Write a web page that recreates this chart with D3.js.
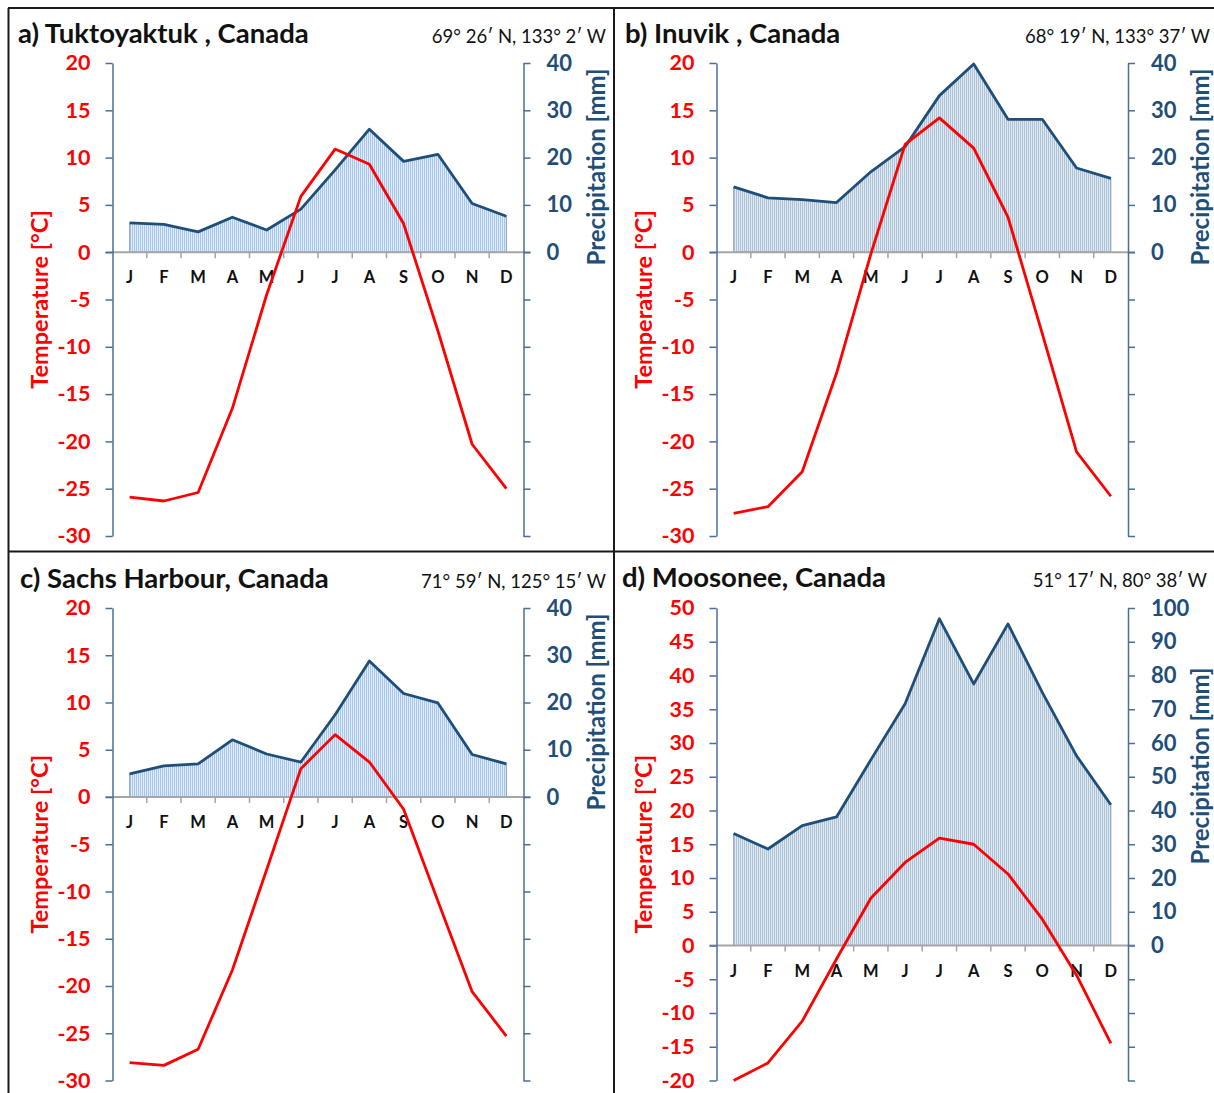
<!DOCTYPE html>
<html>
<head>
<meta charset="utf-8">
<script src="https://cdn.jsdelivr.net/npm/d3@7"></script>
<style>
  html, body { margin: 0; padding: 0; background: #fff; }
  svg { display: block; font-family: Lato, "Open Sans", sans-serif; }
</style>
</head>
<body>
<script>
// Monthly climate normals for four Canadian stations
const months = ["J", "F", "M", "A", "M", "J", "J", "A", "S", "O", "N", "D"];

const tempTuktoyaktuk = [-25.9, -26.3, -25.4, -16.5, -4.5, 5.9, 10.9, 9.3, 3.0, -8.3, -20.3, -25.0];
const precTuktoyaktuk = [6.2, 5.9, 4.3, 7.4, 4.7, 9.1, 17.4, 26.0, 19.2, 20.7, 10.3, 7.6];

const tempInuvik = [-27.6, -26.9, -23.2, -12.8, -0.2, 11.4, 14.2, 11.0, 3.7, -8.6, -21.1, -25.8];
const precInuvik = [13.8, 11.5, 11.1, 10.5, 17.0, 22.3, 33.1, 39.8, 28.1, 28.1, 17.8, 15.6];

const tempSachs = [-28.1, -28.4, -26.7, -18.3, -7.7, 3.0, 6.6, 3.7, -1.3, -11.0, -20.6, -25.3];
const precSachs = [4.9, 6.6, 7.0, 12.1, 9.1, 7.4, 17.4, 28.8, 21.9, 19.9, 9.0, 7.0];

const tempMoosonee = [-20.0, -17.4, -11.2, -2.0, 7.0, 12.3, 15.9, 15.0, 10.6, 3.9, -4.4, -14.5];
const precMoosonee = [33.2, 28.6, 35.5, 38.1, 55.0, 71.6, 96.8, 77.5, 95.3, 75.0, 56.2, 41.7];

const titles = ["a) Tuktoyaktuk , Canada", "b) Inuvik , Canada", "c) Sachs Harbour, Canada", "d) Moosonee, Canada"];
const coords = ["69° 26′ N, 133° 2′ W", "68° 19′ N, 133° 37′ W", "71° 59′ N, 125° 15′ W", "51° 17′ N, 80° 38′ W"];

const tempDomains = [[-30, 20], [-30, 20], [-30, 20], [-20, 50]];
const precDomains = [[-60, 40], [-60, 40], [-60, 40], [-40, 100]];

// Page layout
const W = 1214, H = 1093;
const RED = "#ff0000", NAVY = "#1f4e79", AXIS = "#4a6e9c", ZERO = "#a6a6a6";

const panels = [
  { temp: tempTuktoyaktuk, prec: precTuktoyaktuk, left: 112.5, right: 523.5, top: 63, bottom: 536,
    titleX: 18, coordX: 606, textY: 43, pattern: "hatchBlue", precLabelY: 167 },
  { temp: tempInuvik, prec: precInuvik, left: 716.5, right: 1128, top: 63, bottom: 536,
    titleX: 625, coordX: 1210, textY: 43, pattern: "hatchGrey", precLabelY: 167 },
  { temp: tempSachs, prec: precSachs, left: 112.5, right: 523.5, top: 608, bottom: 1080.5,
    titleX: 20, coordX: 606, textY: 588, pattern: "hatchBlue", precLabelY: 712 },
  { temp: tempMoosonee, prec: precMoosonee, left: 716.5, right: 1128, top: 608, bottom: 1080.5,
    titleX: 622, coordX: 1207, textY: 587, pattern: "hatchGrey", precLabelY: 766 }
];

const svg = d3.select("body").append("svg").attr("width", W).attr("height", H);

// Vertical hatching used for the precipitation area
const defs = svg.append("defs");
function hatch(id, dark, light) {
  const p = defs.append("pattern").attr("id", id).attr("patternUnits", "userSpaceOnUse")
    .attr("width", 2).attr("height", 10);
  p.append("rect").attr("width", 2).attr("height", 10).attr("fill", light);
  p.append("rect").attr("width", 1).attr("height", 10).attr("fill", dark);
}
hatch("hatchBlue", "#a6c6ef", "#e2edfa");
hatch("hatchGrey", "#acc2d8", "#e0e8f0");

// Frame around the four panels
const frame = svg.append("g").attr("stroke", "#1a1a1a").attr("stroke-width", 2).attr("fill", "none");
frame.append("line").attr("x1", 8).attr("x2", W).attr("y1", 8).attr("y2", 8);
frame.append("line").attr("x1", 8.5).attr("x2", 8.5).attr("y1", 8).attr("y2", H);
frame.append("line").attr("x1", 614).attr("x2", 614).attr("y1", 8).attr("y2", H);
frame.append("line").attr("x1", 8).attr("x2", W).attr("y1", 551.5).attr("y2", 551.5);

panels.forEach((p, k) => {
  const g = svg.append("g");

  const x = d3.scaleBand().domain(d3.range(12)).range([p.left, p.right]).paddingInner(0).paddingOuter(0);
  const cx = i => x(i) + x.bandwidth() / 2;
  const [tMin, tMax] = tempDomains[k];
  const [pMin, pMax] = precDomains[k];
  const yT = d3.scaleLinear().domain([tMin, tMax]).range([p.bottom, p.top]);
  const yP = d3.scaleLinear().domain([pMin, pMax]).range([p.bottom, p.top]);
  const y0 = yP(0);

  // Precipitation area
  const area = d3.area().x((d, i) => cx(i)).y0(y0).y1(d => yP(d));
  g.append("path").datum(p.prec).attr("d", area)
    .attr("fill", `url(#${p.pattern})`).attr("stroke", "#6d8fb8").attr("stroke-width", 0.8);

  // Zero line with category ticks
  g.append("line").attr("x1", p.left - 7).attr("x2", p.right + 7).attr("y1", y0).attr("y2", y0)
    .attr("stroke", ZERO).attr("stroke-width", 2);
  g.append("g").selectAll("line").data(d3.range(1, 12)).join("line")
    .attr("x1", i => x(i)).attr("x2", i => x(i)).attr("y1", y0).attr("y2", y0 + 6)
    .attr("stroke", ZERO).attr("stroke-width", 1.5);

  // Month labels
  g.append("g").selectAll("text").data(months).join("text")
    .attr("x", (d, i) => cx(i)).attr("y", y0 + 31)
    .attr("text-anchor", "middle").attr("font-size", 16.5).attr("font-weight", 700).attr("fill", "#111")
    .text(d => d);

  // Temperature axis (left)
  const axL = g.append("g").attr("transform", `translate(${p.left},0)`)
    .call(d3.axisLeft(yT).tickValues(d3.range(tMin, tMax + 1, 5)).tickSize(7).tickSizeOuter(0).tickPadding(15)
      .tickFormat(d => String(d)));
  axL.select(".domain").attr("stroke", AXIS).attr("stroke-width", 1.5);
  axL.selectAll(".tick line").attr("stroke", AXIS).attr("stroke-width", 1.5);
  axL.selectAll(".tick text").attr("fill", RED).attr("font-size", 21.5).attr("font-weight", 700)
    .attr("font-family", "Lato, sans-serif");

  // Precipitation axis (right); labels only for non-negative values
  const axR = g.append("g").attr("transform", `translate(${p.right},0)`)
    .call(d3.axisRight(yP).tickValues(d3.range(pMin, pMax + 1, 10)).tickSize(7).tickSizeOuter(0).tickPadding(16)
      .tickFormat(d => d >= 0 ? String(d) : ""));
  axR.select(".domain").attr("stroke", AXIS).attr("stroke-width", 1.5);
  axR.selectAll(".tick line").attr("stroke", AXIS).attr("stroke-width", 1.5);
  axR.selectAll(".tick text").attr("fill", NAVY).attr("font-size", 22).attr("font-weight", 700)
    .attr("font-family", "Lato, sans-serif");

  // Precipitation line
  g.append("path").datum(p.prec)
    .attr("d", d3.line().x((d, i) => cx(i)).y(d => yP(d)))
    .attr("fill", "none").attr("stroke", NAVY).attr("stroke-width", 2.8).attr("stroke-linejoin", "round");

  // Temperature line
  g.append("path").datum(p.temp)
    .attr("d", d3.line().x((d, i) => cx(i)).y(d => yT(d)))
    .attr("fill", "none").attr("stroke", RED).attr("stroke-width", 2.8).attr("stroke-linejoin", "round");

  // Axis titles
  const tLabelX = p.left - 65, tLabelY = (p.top + p.bottom) / 2;
  g.append("text").attr("transform", `translate(${tLabelX},${tLabelY}) rotate(-90)`)
    .attr("text-anchor", "middle").attr("font-size", 23.5).attr("font-weight", 700).attr("fill", RED)
    .text("Temperature [°C]");
  g.append("text").attr("transform", `translate(${p.right + 81},${p.precLabelY}) rotate(-90)`)
    .attr("text-anchor", "middle").attr("font-size", 24).attr("font-weight", 700).attr("fill", NAVY)
    .text("Precipitation [mm]");

  // Station name and coordinates
  g.append("text").attr("x", p.titleX).attr("y", p.textY)
    .attr("font-size", 27.5).attr("font-weight", 700).attr("fill", "#111").text(titles[k]);
  g.append("text").attr("x", p.coordX).attr("y", p.textY).attr("text-anchor", "end")
    .attr("font-size", 18.5).attr("fill", "#111").text(coords[k]);
});
</script>
</body>
</html>
